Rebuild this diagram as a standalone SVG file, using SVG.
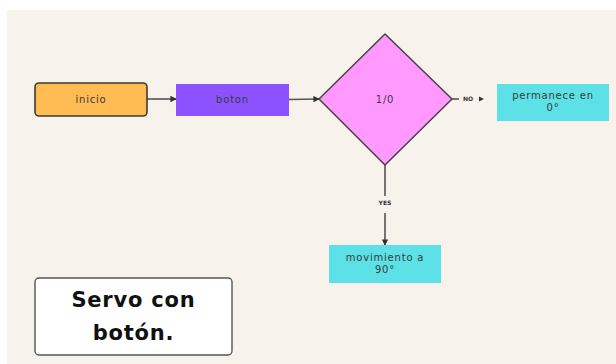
<svg xmlns="http://www.w3.org/2000/svg" width="616" height="364" viewBox="0 0 616 364">
  <style>
    .lbl { font-family: "DejaVu Sans", "Liberation Sans", sans-serif; font-size: 10px; fill: #3a3a3a; text-anchor: middle; letter-spacing: 0.8px; }
    .tag { font-family: "DejaVu Sans", "Liberation Sans", sans-serif; font-size: 6px; font-weight: bold; fill: #333; text-anchor: middle; }
    .title { font-family: "DejaVu Sans", "Liberation Sans", sans-serif; font-size: 21px; font-weight: bold; fill: #111; text-anchor: middle; letter-spacing: 0.8px; }
    .link { stroke: #555; stroke-width: 1.6; fill: none; }
  </style>
  <defs>
    <marker id="arrow" viewBox="0 0 8 8" refX="7" refY="4" markerWidth="4" markerHeight="4" orient="auto">
      <path d="M0,0 L8,4 L0,8 z" fill="#333"/>
    </marker>
  </defs>

  <!-- canvas -->
  <rect width="616" height="364" fill="#ffffff"/>
  <rect x="7" y="10" width="609" height="354" fill="#f7f2eb"/>

  <g id="connectors">
    <line class="link" x1="147" y1="99" x2="176" y2="99" marker-end="url(#arrow)"/>
    <line class="link" x1="289" y1="99.5" x2="319" y2="99" marker-end="url(#arrow)"/>
    <line class="link" x1="452" y1="99" x2="459" y2="99"/>
    <text class="tag" x="468" y="101">NO</text>
    <path d="M479,96.5 L484,99 L479,101.5 z" fill="#333"/>
    <line class="link" x1="385" y1="165" x2="385" y2="196"/>
    <text class="tag" x="385" y="205">YES</text>
    <line class="link" x1="385" y1="213" x2="385" y2="245" marker-end="url(#arrow)"/>
  </g>

  <g id="inicio">
    <rect x="35" y="83" width="112" height="33" rx="4" fill="#ffbc52" stroke="#3d3a35" stroke-width="1.6"/>
    <text class="lbl" x="91" y="103">inicio</text>
  </g>

  <g id="boton">
    <rect x="176" y="84" width="113" height="32" fill="#8c52ff"/>
    <text class="lbl" x="232.5" y="103">boton</text>
  </g>

  <g id="decision">
    <path d="M385,34 L452,99 L385,165 L319,99 Z" fill="#ff99ff" stroke="#444" stroke-width="1.5" stroke-linejoin="round"/>
    <text class="lbl" x="385" y="103">1/0</text>
  </g>

  <g id="permanece">
    <rect x="497" y="84" width="112" height="37" fill="#5ce1e6"/>
    <text class="lbl" x="553" y="99">permanece en</text>
    <text class="lbl" x="553" y="111">0°</text>
  </g>

  <g id="movimiento">
    <rect x="329" y="245" width="112" height="38" fill="#5ce1e6"/>
    <text class="lbl" x="385" y="261">movimiento a</text>
    <text class="lbl" x="385" y="273">90°</text>
  </g>

  <g id="titulo">
    <rect x="35" y="278" width="197" height="77" rx="4" fill="#ffffff" stroke="#555" stroke-width="1.4"/>
    <text class="title" x="133.5" y="307">Servo con</text>
    <text class="title" x="133.5" y="340">botón.</text>
  </g>
</svg>
